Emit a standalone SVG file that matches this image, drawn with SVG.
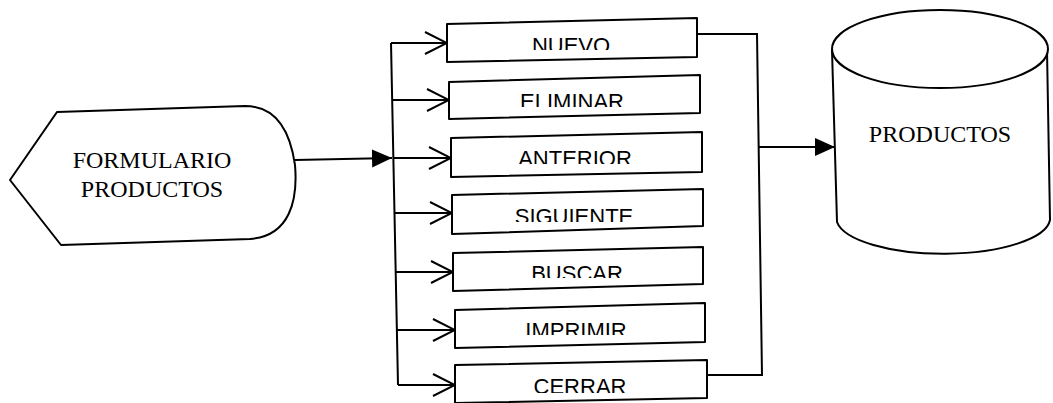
<svg xmlns="http://www.w3.org/2000/svg" width="1053" height="403" viewBox="0 0 1053 403">
<style>
.shape{fill:#fff;stroke:#000;stroke-width:2;stroke-linejoin:round}
.line{fill:none;stroke:#000;stroke-width:2}
.serif{font-family:"Liberation Serif","Times New Roman",serif;font-size:24px;fill:#000;text-anchor:middle}
.btn{font-family:"Liberation Sans",Arial,sans-serif;font-size:22px;fill:#000;text-anchor:middle}
</style>
<defs>
<marker id="fill" viewBox="0 0 20 20" refX="20" refY="10" markerWidth="20" markerHeight="20" markerUnits="userSpaceOnUse" orient="auto">
<path d="M0,1 L20,10 L0,19 Z" fill="#000"/>
</marker>
<marker id="open" viewBox="0 0 24 24" refX="23" refY="12" markerWidth="24" markerHeight="24" markerUnits="userSpaceOnUse" orient="auto">
<path d="M1,1 L23,12 L1,23" fill="none" stroke="#000" stroke-width="2"/>
</marker>
<clipPath id="c1"><rect x="450" y="25" width="240" height="25"/></clipPath>
<clipPath id="c2"><rect x="450" y="82" width="240" height="25"/></clipPath>
<clipPath id="c3"><rect x="450" y="139" width="240" height="25"/></clipPath>
<clipPath id="c4"><rect x="450" y="197" width="240" height="25"/></clipPath>
<clipPath id="c5"><rect x="450" y="253" width="240" height="25"/></clipPath>
<clipPath id="c6"><rect x="450" y="310" width="240" height="25"/></clipPath>
<clipPath id="c7"><rect x="450" y="368" width="240" height="25"/></clipPath>
</defs>

<g id="connectors">
<path class="line" d="M295,160 L392,158" marker-end="url(#fill)"/>
<path class="line" d="M391,43 L398,385"/>
<path class="line" d="M391,43 L447,43" marker-end="url(#open)"/>
<path class="line" d="M392,100 L449,100" marker-end="url(#open)"/>
<path class="line" d="M393,158 L451,158" marker-end="url(#open)"/>
<path class="line" d="M394,213 L452,213" marker-end="url(#open)"/>
<path class="line" d="M396,272 L453,272" marker-end="url(#open)"/>
<path class="line" d="M397,330 L455,330" marker-end="url(#open)"/>
<path class="line" d="M398,385 L455,385" marker-end="url(#open)"/>
<path class="line" d="M697,34 L757,34 L762,375 L707,375"/>
<path class="line" d="M758,147 L835,147" marker-end="url(#fill)"/>
</g>

<g id="formulario">
<path class="shape" d="M10,180 L57,112 L245,106 C275,106 290,130 295,165 C298,200 290,236 250,239 L61,245 Z"/>
<text class="serif" x="152" y="168">FORMULARIO</text>
<text class="serif" x="152" y="197">PRODUCTOS</text>
</g>

<g id="nuevo">
<polygon class="shape" points="447,24 697,18 697,57 447,62"/>
<text class="btn" x="571" y="53" clip-path="url(#c1)">NUEVO</text>
</g>
<g id="eliminar">
<polygon class="shape" points="449,82 700,75 700,113 449,119"/>
<text class="btn" x="572" y="109" clip-path="url(#c2)">ELIMINAR</text>
</g>
<g id="anterior">
<polygon class="shape" points="451,138 702,132 702,172 451,177"/>
<text class="btn" x="575" y="166" clip-path="url(#c3)">ANTERIOR</text>
</g>
<g id="siguiente">
<polygon class="shape" points="452,195 703,189 703,226 452,234"/>
<text class="btn" x="574" y="224" clip-path="url(#c4)">SIGUIENTE</text>
</g>
<g id="buscar">
<polygon class="shape" points="453,253 703,247 703,284 453,291"/>
<text class="btn" x="577" y="281" clip-path="url(#c5)">BUSCAR</text>
</g>
<g id="imprimir">
<polygon class="shape" points="455,310 705,303 705,342 455,348"/>
<text class="btn" x="576" y="338" clip-path="url(#c6)">IMPRIMIR</text>
</g>
<g id="cerrar">
<polygon class="shape" points="455,365 707,360 707,398 455,403"/>
<text class="btn" x="580" y="394" clip-path="url(#c7)">CERRAR</text>
</g>

<g id="productos">
<path class="shape" d="M832,50 L837,222 A107,36 0 0 0 1050,220 L1047,50"/>
<ellipse class="shape" cx="940" cy="49" rx="108" ry="39"/>
<text class="serif" x="940" y="142">PRODUCTOS</text>
</g>
</svg>
